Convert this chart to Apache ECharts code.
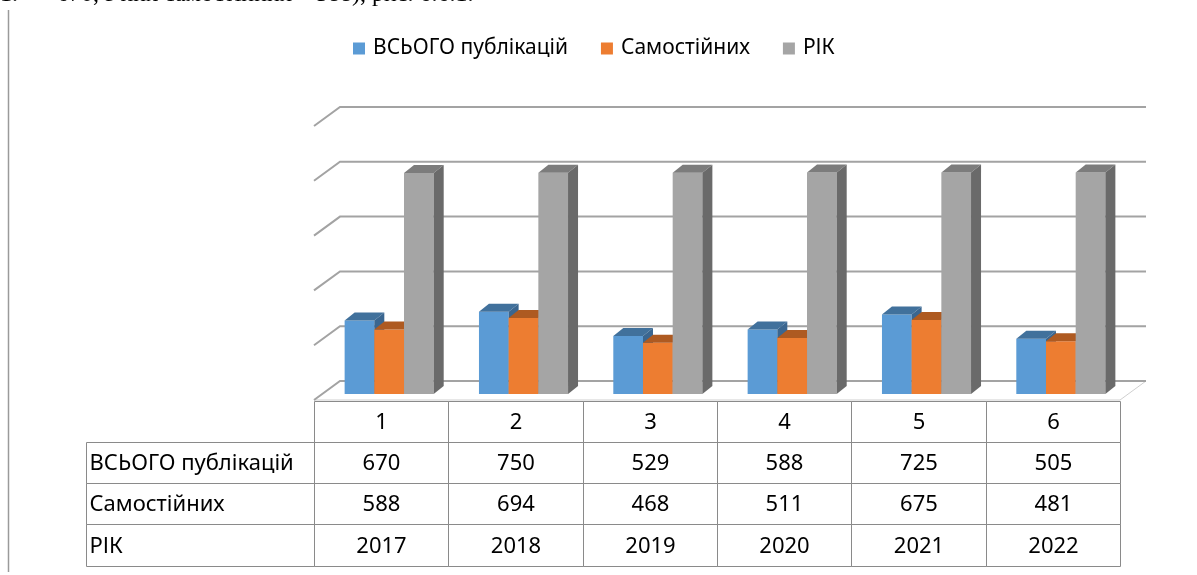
<!DOCTYPE html>
<html>
<head>
<meta charset="utf-8">
<script src="https://cdn.jsdelivr.net/npm/echarts@6/dist/echarts.min.js"></script>
<style>
  html, body { margin: 0; padding: 0; background: #fff; }
  #chart { width: 1197px; height: 575px; }
</style>
</head>
<body>
<div id="chart"></div>
<script>
// data
var categories = ['1', '2', '3', '4', '5', '6'];
var totalPubs = [670, 750, 529, 588, 725, 505];
var ownPubs = [588, 694, 468, 511, 675, 481];
var years = [2017, 2018, 2019, 2020, 2021, 2022];
var gridValues = [0, 500, 1000, 1500, 2000, 2500];
var seriesNames = ['ВСЬОГО публікацій', 'Самостійних', 'РІК'];
var rowLabels = ['ВСЬОГО публікацій', 'Самостійних', 'РІК'];

// fake 3d look
var DX = 26, DY = -19;          // floor / back wall depth
var BAR_DX = 8, BAR_DY = -6;    // where the bars stand
var TOP_DX = 10, TOP_DY = -8;   // bar depth
var ROW_H = 41.3;
var LABEL_LEFT = 86.5;
var FONT = '"Noto Sans", sans-serif';

var palette = [
  { front: '#5b9bd5', top: '#41719c', side: '#3a6690' },
  { front: '#ed7d31', top: '#ae5a21', side: '#9e521e' },
  { front: '#a5a5a5', top: '#7c7c7c', side: '#6a6a6a' }
];

function renderWall(params, api) {
  var cs = params.coordSys;
  var v = api.value(1);
  var y = api.coord([0, v])[1];
  var x0 = cs.x, x1 = cs.x + cs.width;
  var children = [];
  if (v === 0) {
    children.push({
      type: 'polygon',
      shape: { points: [[x0, y], [x0 + DX, y + DY], [x1 + DX, y + DY], [x1, y]] },
      style: { fill: '#fff', stroke: '#cfcfcf', lineWidth: 1 }
    });
  }
  children.push({
    type: 'polyline',
    shape: { points: [[x0, y], [x0 + DX, y + DY], [x1 + DX, y + DY]] },
    style: { fill: null, stroke: '#a3a3a3', lineWidth: 2 }
  });
  return { type: 'group', children: children };
}

function makeBarRenderer(k) {
  return function (params, api) {
    var idx = params.dataIndex;
    var val = api.value(1);
    var base = api.coord([idx, 0]);
    var top = api.coord([idx, val]);
    var band = api.size([1, 0])[0];
    var w = band * 0.221;
    var x0 = base[0] + BAR_DX - 1.5 * w + k * w;
    var x1 = x0 + w;
    var yb = base[1] + BAR_DY;
    var yt = top[1] + BAR_DY;
    var c = palette[k];
    return {
      type: 'group',
      children: [
        { type: 'rect', shape: { x: x0, y: yt, width: w, height: yb - yt }, style: { fill: c.front } },
        {
          type: 'polygon',
          shape: { points: [[x0, yt], [x0 + TOP_DX, yt + TOP_DY], [x1 + TOP_DX, yt + TOP_DY], [x1, yt]] },
          style: { fill: c.top }
        },
        {
          type: 'polygon',
          shape: { points: [[x1, yt], [x1 + TOP_DX, yt + TOP_DY], [x1 + TOP_DX, yb + TOP_DY], [x1, yb]] },
          style: { fill: c.side }
        }
      ]
    };
  };
}

function cell(x, y, w, h) {
  return {
    type: 'rect',
    shape: { x: x, y: y, width: w, height: h },
    style: { fill: null, stroke: '#8a8a8a', lineWidth: 1 }
  };
}

function cellText(txt, x, y, align) {
  return {
    type: 'text',
    x: x, y: y,
    style: {
      text: String(txt), fill: '#000', font: '22px ' + FONT,
      align: align, verticalAlign: 'middle'
    }
  };
}

function renderTable(params, api) {
  var i = params.dataIndex;
  var c = api.coord([i, 0]);
  var band = api.size([1, 0])[0];
  var xl = Math.round(c[0] - band / 2) + 0.5;
  var xr = Math.round(c[0] + band / 2) + 0.5;
  var y0 = Math.round(c[1]) + 0.5;
  var vals = [categories[i], totalPubs[i], ownPubs[i], years[i]];
  var children = [];
  for (var r = 0; r < 4; r++) {
    var ya = Math.round(y0 + r * ROW_H) + 0.5;
    var yb = Math.round(y0 + (r + 1) * ROW_H) + 0.5;
    children.push(cell(xl, ya, xr - xl, yb - ya));
    children.push(cellText(vals[r], (xl + xr) / 2, (ya + yb) / 2 + 1, 'center'));
    if (i === 0 && r > 0) {
      children.push(cell(LABEL_LEFT, ya, xl - LABEL_LEFT, yb - ya));
      children.push(cellText(rowLabels[r - 1], LABEL_LEFT + 3, (ya + yb) / 2 + 1, 'left'));
    }
  }
  return { type: 'group', children: children };
}

function barData(arr) {
  return arr.map(function (v, i) { return [i, v]; });
}

var chart = echarts.init(document.getElementById('chart'));
var option = {
  animation: false,
  legend: {
    data: seriesNames,
    left: 348,
    top: 33,
    icon: 'rect',
    itemWidth: 12,
    itemHeight: 12,
    itemGap: 33,
    selectedMode: false,
    textStyle: { fontFamily: FONT, fontSize: 21, color: '#000', padding: [0, 0, 0, 3] }
  },
  grid: { left: 314, right: 77, top: 126, bottom: 175 },
  xAxis: { type: 'category', data: categories, show: false },
  yAxis: { type: 'value', min: 0, max: 2500, interval: 500, show: false },
  graphic: [
    { type: 'line', shape: { x1: 8.5, y1: 10, x2: 8.5, y2: 572 }, style: { stroke: '#9a9a9a', lineWidth: 1.5 } },
    { type: 'text', x: 0, y: -5, style: { text: '1.', font: '24px "Liberation Serif", serif', fill: '#000', verticalAlign: 'middle' } },
    { type: 'text', x: 57, y: -5, style: { text: '670, з них самостійних – 588), рис. 6.6.1.', font: '24px "Liberation Serif", serif', fill: '#000', verticalAlign: 'middle' } }
  ],
  series: [
    { type: 'custom', name: 'walls', data: gridValues.map(function (v) { return [0, v]; }), encode: { x: 0, y: 1 }, renderItem: renderWall, z: 1, silent: true },
    { type: 'custom', name: seriesNames[0], data: barData(totalPubs), encode: { x: 0, y: 1 }, renderItem: makeBarRenderer(0), itemStyle: { color: palette[0].front }, z: 2 },
    { type: 'custom', name: seriesNames[1], data: barData(ownPubs), encode: { x: 0, y: 1 }, renderItem: makeBarRenderer(1), itemStyle: { color: palette[1].front }, z: 3 },
    { type: 'custom', name: seriesNames[2], data: barData(years), encode: { x: 0, y: 1 }, renderItem: makeBarRenderer(2), itemStyle: { color: palette[2].front }, z: 4 },
    { type: 'custom', name: 'table', data: categories.map(function (c, i) { return [i, 0]; }), encode: { x: 0, y: 1 }, renderItem: renderTable, z: 5, silent: true }
  ]
};
chart.setOption(option);
</script>
</body>
</html>
